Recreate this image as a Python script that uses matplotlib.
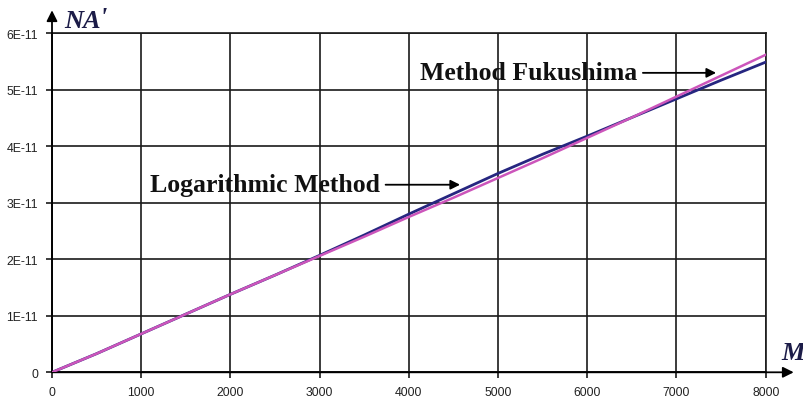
import matplotlib
matplotlib.use("Agg")
import matplotlib.pyplot as plt
import numpy as np

# M values and the two NA' curves (units of 1E-11)
m_vals = [0, 500, 1000, 1500, 2000, 2500, 3000, 3500, 4000,
          4500, 5000, 5500, 6000, 6500, 7000, 7500, 8000]
na_fukushima = [0.00, 0.33, 0.68, 1.03, 1.38, 1.72, 2.06, 2.40, 2.75,
                3.09, 3.44, 3.79, 4.15, 4.51, 4.88, 5.25, 5.62]
na_logarithmic = [0.00, 0.33, 0.68, 1.03, 1.38, 1.72, 2.07, 2.43, 2.80,
                  3.16, 3.52, 3.86, 4.18, 4.51, 4.84, 5.17, 5.49]

x_ticks = [0, 1000, 2000, 3000, 4000, 5000, 6000, 7000, 8000]
y_ticks = [0, 1e-11, 2e-11, 3e-11, 4e-11, 5e-11, 6e-11]
y_labels = ["0", "1E-11", "2E-11", "3E-11", "4E-11", "5E-11", "6E-11"]

SERIF = ["Liberation Serif", "DejaVu Serif"]
SANS = ["Liberation Sans", "DejaVu Sans"]

fig = plt.figure(figsize=(8.04, 4.02), dpi=100)
ax = fig.add_axes([52 / 804, 1 - 373.3 / 402, 713.7 / 804, 339 / 402])

scale = 1e-11
ax.plot(m_vals, np.array(na_logarithmic) * scale, color="#262680", lw=2.0, zorder=3)
ax.plot(m_vals, np.array(na_fukushima) * scale, color="#cc55bb", lw=1.8, zorder=4)

ax.set_xlim(0, 8000)
ax.set_ylim(0, 6e-11)
ax.set_xticks(x_ticks)
ax.set_yticks(y_ticks)
ax.set_yticklabels(y_labels)
ax.grid(True, color="#1a1a1a", lw=1.2)
ax.set_axisbelow(True)
for sp in ax.spines.values():
    sp.set_color("#1a1a1a")
    sp.set_linewidth(1.2)
ax.tick_params(direction="out", length=4, width=1.2, color="#1a1a1a",
               labelsize=8.8, labelcolor="#222222", pad=6)
for lbl in ax.get_xticklabels() + ax.get_yticklabels():
    lbl.set_family(SANS)

# axis arrows running past the plot area
arrow = dict(arrowstyle="-|>", color="black", lw=1.3, mutation_scale=16,
             shrinkA=0, shrinkB=0)
ax.annotate("", xy=(0, 1 + 23 / 339), xytext=(0, 0), xycoords="axes fraction",
            textcoords="axes fraction", arrowprops=arrow, annotation_clip=False)
ax.annotate("", xy=(1 + 28 / 713.7, 0), xytext=(0, 0), xycoords="axes fraction",
            textcoords="axes fraction", arrowprops=arrow, annotation_clip=False)

axis_font = dict(family=SERIF, style="italic", weight="bold", fontsize=19,
                 color="#1c1c48", va="center", ha="left")
fig.text(64 / 804, 1 - 22 / 402, "NA", **axis_font)
fig.text(99 / 804, 1 - 19 / 402, "'", **axis_font)
fig.text(781 / 804, 1 - 353 / 402, "M", **axis_font)

# curve labels with horizontal pointer arrows
pointer = dict(arrowstyle="-|>", color="black", lw=1.3, mutation_scale=14,
               shrinkA=2, shrinkB=0, relpos=(1.0, 0.5))
label_font = dict(ha="left", va="center", family=SERIF, weight="bold",
                  fontsize=18.5, color="#111111")
ax.annotate("Method Fukushima", xy=(7444, 5.30e-11), xytext=(4126, 5.30e-11),
            arrowprops=pointer, **label_font)
ax.annotate("Logarithmic Method", xy=(4574, 3.32e-11), xytext=(1099, 3.32e-11),
            arrowprops=pointer, **label_font)

fig.savefig("out.png", dpi=100)
